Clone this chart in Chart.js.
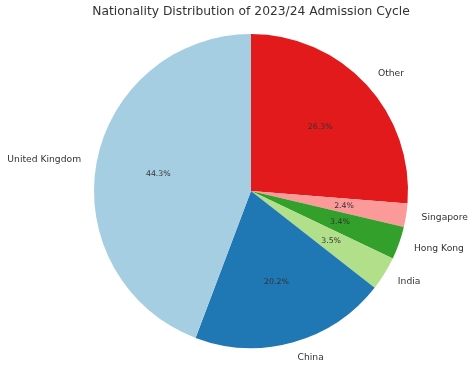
<!DOCTYPE html>
<html>
<head>
<meta charset="utf-8">
<script src="https://cdn.jsdelivr.net/npm/chart.js@4"></script>
<style>
  html, body { margin: 0; padding: 0; background: #fff; }
  #wrap { width: 474px; height: 369px; }
</style>
</head>
<body>
<div id="wrap"><canvas id="pie" width="474" height="369"></canvas></div>
<script>
// values as drawn by the original (counterclockwise from the top)
const nationalities = ["United Kingdom", "China", "India", "Hong Kong", "Singapore", "Other"];
const shares = [44.3, 20.2, 3.5, 3.4, 2.4, 26.3];
const colors = ["#a6cee3", "#1f78b4", "#b2df8a", "#33a02c", "#fb9a99", "#e31a1c"];
const titleText = "Nationality Distribution of 2023/24 Admission Cycle";

// Chart.js goes clockwise, so flip the order
const labels = nationalities.slice().reverse();
const values = shares.slice().reverse();
const bg = colors.slice().reverse();

const textPlugin = {
  id: "pieText",
  afterDatasetsDraw(chart) {
    const ctx = chart.ctx;
    const meta = chart.getDatasetMeta(0);
    ctx.save();
    ctx.fillStyle = "#333";
    meta.data.forEach((arc, i) => {
      const mid = (arc.startAngle + arc.endAngle) / 2;
      const r = arc.outerRadius;
      const cx = arc.x, cy = arc.y;
      // category label outside
      const lx = cx + Math.cos(mid) * r * 1.1;
      const ly = cy + Math.sin(mid) * r * 1.1;
      ctx.font = "9.2px 'DejaVu Sans'";
      ctx.textBaseline = "middle";
      ctx.textAlign = Math.cos(mid) < 0 ? "right" : "left";
      ctx.fillText(labels[i], lx, ly);
      // percentage inside
      const px = cx + Math.cos(mid) * r * 0.6;
      const py = cy + Math.sin(mid) * r * 0.6;
      ctx.font = "7.8px 'DejaVu Sans'";
      ctx.textAlign = "center";
      ctx.fillText(values[i].toFixed(1) + "%", px, py);
    });
    // title
    ctx.font = "12.3px 'DejaVu Sans'";
    ctx.textAlign = "center";
    ctx.textBaseline = "middle";
    ctx.fillText(titleText, meta.data[0].x, 12);
    ctx.restore();
  }
};

new Chart(document.getElementById("pie"), {
  type: "pie",
  data: {
    labels: labels,
    datasets: [{
      data: values,
      backgroundColor: bg,
      borderWidth: 0
    }]
  },
  options: {
    responsive: false,
    animation: false,
    layout: { padding: { top: 34, bottom: 21, left: 94, right: 66 } },
    plugins: {
      legend: { display: false },
      tooltip: { enabled: false },
      title: { display: false }
    },
    events: []
  },
  plugins: [textPlugin]
});
</script>
</body>
</html>
